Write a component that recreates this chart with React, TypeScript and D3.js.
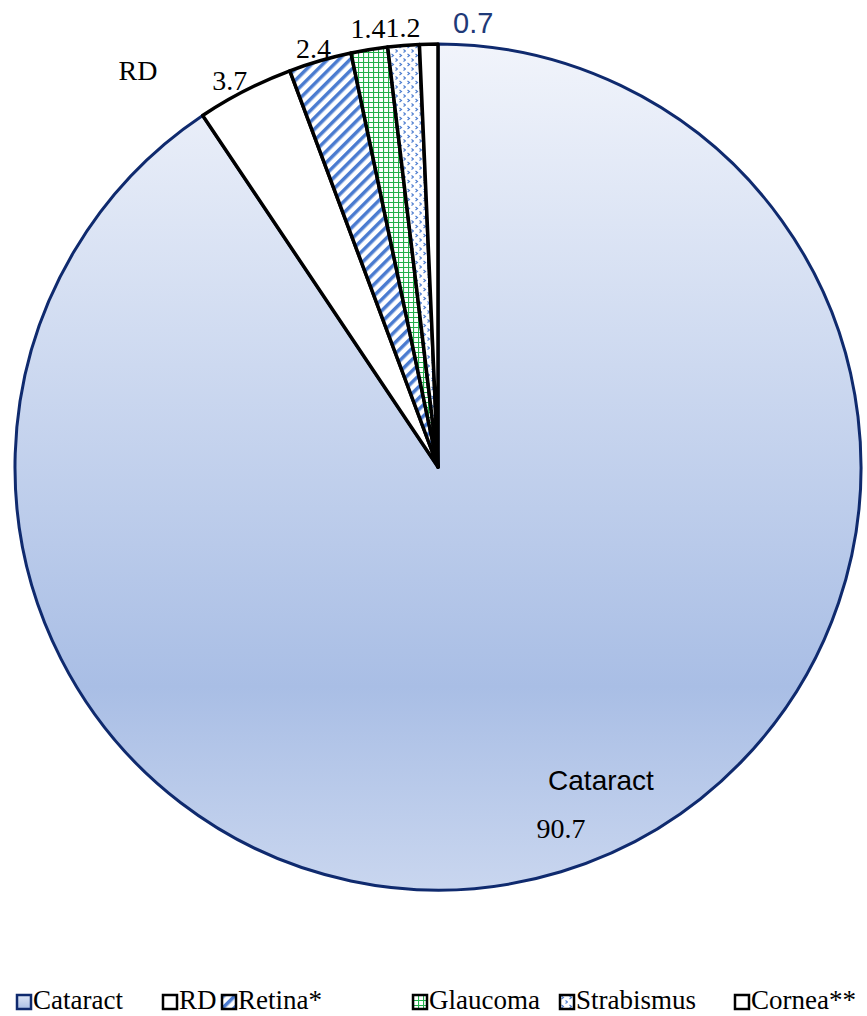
import React from "react";
import * as d3 from "d3";

const categories = ["Cataract", "RD", "Retina*", "Glaucoma", "Strabismus", "Cornea**"];
const values = [90.7, 3.7, 2.4, 1.4, 1.2, 0.7];
const valueLabels = ["90.7", "3.7", "2.4", "1.4", "1.2", "0.7"];
const legendX = [17, 163, 222, 413, 560, 735];

const WIDTH = 867;
const HEIGHT = 1016;
const CX = 438;
const CY = 467;
const R = 423;

const FILLS = [
  "url(#cataractGrad)",
  "#ffffff",
  "url(#retinaPat)",
  "url(#glaucomaPat)",
  "url(#strabPat)",
  "#ffffff",
];

// nudges for outside labels (px)
const LABEL_NUDGE: [number, number][] = [
  [0, 0],
  [-7, 15],
  [-1, 16],
  [2, 8],
  [1, 12],
  [45, 9],
];

const App = () => {
  const pie = d3.pie<number>().sort(null).value((d) => d);
  const arcs = pie(values);
  const arc = d3.arc<d3.PieArcDatum<number>>().innerRadius(0).outerRadius(R);

  const serif = "'Liberation Serif', 'Times New Roman', serif";
  const sans = "'Liberation Sans', Arial, sans-serif";

  const pt = (ang: number, r: number) => [CX + r * Math.sin(ang), CY - r * Math.cos(ang)];

  const outer = arcs.slice(1).map((a, k) => {
    const i = k + 1;
    const mid = (a.startAngle + a.endAngle) / 2;
    const [x, y] = pt(mid, i === 1 ? R + 18 : R + 20);
    return { i, x: x + LABEL_NUDGE[i][0], y: y + LABEL_NUDGE[i][1] };
  });

  return (
    <svg width={WIDTH} height={HEIGHT} style={{ position: "absolute", left: 0, top: 0 }}>
      <defs>
        <linearGradient id="cataractGrad" gradientUnits="userSpaceOnUse" x1={0} y1={-R} x2={0} y2={R}>
          <stop offset="0" stopColor="#f1f4fb" />
          <stop offset="0.76" stopColor="#a9bee5" />
          <stop offset="1" stopColor="#c9d6ef" />
        </linearGradient>
        <pattern id="retinaPat" patternUnits="userSpaceOnUse" width={8} height={8} patternTransform="rotate(45)">
          <rect width={8} height={8} fill="#ffffff" />
          <rect x={0} y={0} width={3.5} height={8} fill="#4a7bd0" />
        </pattern>
        <pattern id="glaucomaPat" patternUnits="userSpaceOnUse" width={5} height={5}>
          <rect width={5} height={5} fill="#ffffff" />
          <path d="M0 0.5H5M0.5 0V5" stroke="#22b04b" strokeWidth={1.2} />
        </pattern>
        <pattern id="strabPat" patternUnits="userSpaceOnUse" width={8} height={9}>
          <rect width={8} height={9} fill="#ffffff" />
          <path d="M1.5 1 L3.5 2.5 L1.5 4" stroke="#4a7bd0" strokeWidth={1.1} fill="none" />
          <path d="M5.5 5.5 L7.5 7 L5.5 8.5" stroke="#4a7bd0" strokeWidth={1.1} fill="none" />
        </pattern>
        <linearGradient id="legendCat" x1="0" y1="0" x2="0" y2="1">
          <stop offset="0" stopColor="#dfe7f6" />
          <stop offset="1" stopColor="#a9bee5" />
        </linearGradient>
      </defs>
      <g transform={`translate(${CX},${CY})`}>
        {arcs.map((a, i) => (
          <path
            key={categories[i]}
            d={arc(a) ?? ""}
            fill={FILLS[i]}
            stroke={i === 0 ? "#0f2a6e" : "#000000"}
            strokeWidth={i === 0 ? 3 : 3.5}
            strokeLinejoin="round"
          />
        ))}
      </g>
      {outer.map(({ i, x, y }) => (
        <text
          key={i}
          x={x}
          y={y}
          textAnchor="middle"
          fontFamily={i === 5 ? sans : serif}
          fontSize={i === 5 ? 29 : 28}
          fill={i === 5 ? "#1f3a78" : "#000"}
        >
          {valueLabels[i]}
        </text>
      ))}
      <text x={138} y={80} textAnchor="middle" fontFamily={serif} fontSize={28}>
        {categories[1]}
      </text>
      <text x={601} y={790} textAnchor="middle" fontFamily={sans} fontSize={28}>
        {categories[0]}
      </text>
      <text x={561} y={838} textAnchor="middle" fontFamily={serif} fontSize={28}>
        {valueLabels[0]}
      </text>
      <g>
        {categories.map((c, i) => (
          <g key={c} transform={`translate(${legendX[i]},995)`}>
            <rect
              x={0}
              y={0}
              width={14}
              height={14}
              fill={i === 0 ? "url(#legendCat)" : FILLS[i]}
              stroke={i === 0 ? "#0f2a6e" : "#000"}
              strokeWidth={2.5}
            />
            <text x={16} y={14} fontFamily={serif} fontSize={27}>
              {c}
            </text>
          </g>
        ))}
      </g>
    </svg>
  );
};

export default App;
